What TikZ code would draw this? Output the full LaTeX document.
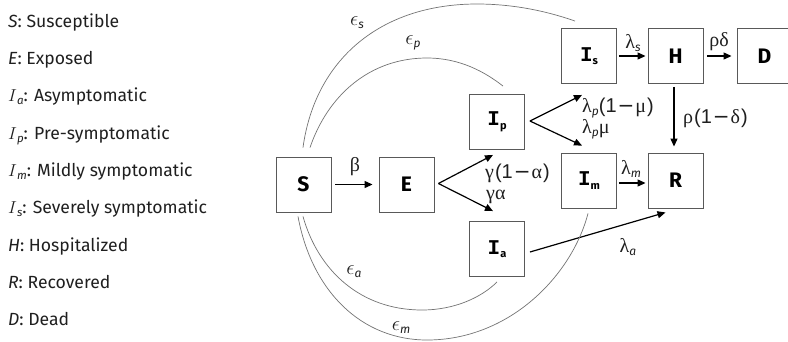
\documentclass[tikz,border=0pt]{standalone}
\usepackage{fontspec}
\setmainfont{Fira Sans}
\newfontfamily\grk{Liberation Serif}
\newfontfamily\lsans{Liberation Sans}
\newfontfamily\dvs{DejaVu Sans}
\newfontfamily\monoI{Liberation Mono}
\usetikzlibrary{arrows.meta}
\definecolor{boxgray}{gray}{0.35}
\definecolor{curvegray}{gray}{0.45}
\definecolor{txt}{gray}{0.12}
\newcommand\boxI[1]{{\monoI\bfseries I}\raisebox{-3.5pt}{\fontsize{11}{11}\selectfont\bfseries #1}}
\newcommand\sbs[1]{\raisebox{-3pt}{\fontsize{11.5}{11.5}\selectfont\itshape #1}}
\newcommand\lsub[1]{\raisebox{-3pt}{\fontsize{12}{12}\selectfont\itshape #1}}
\newcommand\gk[1]{{\grk #1}}
\newcommand\ls[1]{{\lsans #1}}
\newcommand\mn{\kern1pt{\dvs −}\kern1pt}
\begin{document}
\begin{tikzpicture}[x=1pt,y=-1pt,
  comp/.style={draw=boxgray,line width=0.9pt,minimum width=55pt,minimum height=55pt,inner sep=0pt,font=\fontsize{21}{21}\selectfont\bfseries,text=black},
  flow/.style={draw=black,line width=1.2pt,-{Triangle[length=8pt,width=7pt]}},
  infl/.style={draw=curvegray,line width=0.7pt},
  lab/.style={inner sep=0pt,font=\fontsize{20}{20}\selectfont,text=txt},
  leg/.style={anchor=base west,inner sep=0pt,font=\fontsize{17.6}{17.6}\selectfont,text=txt}]
\useasboundingbox (0,0) rectangle (788,341);
% legend
\node[leg] (l1) at (8,27.3) {\textit{S}: Susceptible};
\node[leg] (l2) at (8,64.6) {\textit{E}: Exposed};
\node[leg] (l3) at (8,101.9) {$I$\sbs{a}: Asymptomatic};
\node[leg] (l4) at (8,139.2) {$I$\sbs{p}: Pre-symptomatic};
\node[leg] (l5) at (8,176.5) {$I$\sbs{m}: Mildly symptomatic};
\node[leg] (l6) at (8,213.8) {$I$\sbs{s}: Severely symptomatic};
\node[leg] (l7) at (8,251.1) {\textit{H}: Hospitalized};
\node[leg] (l8) at (8,288.4) {\textit{R}: Recovered};
\node[leg] (l9) at (8,325.7) {\textit{D}: Dead};
% compartments
\node[comp] (S) at (303.5,184.5) {S};
\node[comp] (E) at (406.5,184.5) {E};
\node[comp] (Ip) at (497,122) {\boxI{p}};
\node[comp] (Ia) at (497,249) {\boxI{a}};
\node[comp] (Is) at (589,56) {\boxI{s}};
\node[comp] (Im) at (589,180.5) {\boxI{m}};
\node[comp] (H) at (675.5,56) {H};
\node[comp] (R) at (675.5,180.5) {R};
\node[comp] (D) at (764.5,56) {D};
% flows
\draw[flow,shorten <=4pt,shorten >=6pt] (S) -- (E);
\draw[flow] ([xshift=4pt,yshift=1pt]E.east) -- ([xshift=-4pt,yshift=-5pt]Ip.south);
\draw[flow] ([xshift=4pt,yshift=1pt]E.east) -- ([xshift=-4pt,yshift=10pt]Ia.north);
\draw[flow] ([xshift=5pt,yshift=1pt]Ip.east) -- ([xshift=-7pt,yshift=-11pt]Is.south);
\draw[flow] ([xshift=5pt,yshift=1pt]Ip.east) -- ([xshift=-7pt,yshift=7pt]Im.north);
\draw[flow,shorten <=2pt,shorten >=2pt] (Is) -- (H);
\draw[flow,shorten <=4pt,shorten >=5pt] (H) -- (D);
\draw[flow,shorten <=3pt,shorten >=6pt] ([xshift=-1.5pt]H.south) -- ([xshift=-1.5pt]R.north);
\draw[flow,shorten <=2pt,shorten >=2pt] ([yshift=-2.5pt]Im.east) -- ([yshift=-2.5pt]R.west);
\draw[flow] ([xshift=5pt,yshift=-3pt]Ia.east) -- ([xshift=-10pt,yshift=-4pt]R.south);
% infection curves
\draw[infl] ([xshift=-0.5pt,yshift=9pt]S.north) .. controls (315,60) and (380,4) .. (477,4)
  .. controls (520,4) and (555,14) .. ([xshift=-14pt,yshift=7pt]Is.north);
\draw[infl] ([xshift=6.5pt,yshift=9pt]S.north) .. controls (328,95) and (370,58) .. (427,58)
  .. controls (460,58) and (485,72) .. ([xshift=6pt,yshift=8pt]Ip.north);
\draw[infl] ([xshift=-0.5pt,yshift=-4pt]S.south) .. controls (318,270) and (360,310) .. (422,310)
  .. controls (455,310) and (482,297) .. ([yshift=-5pt]Ia.south);
\draw[infl] ([xshift=-5.5pt,yshift=-4pt]S.south) .. controls (312,292) and (362,340) .. (427,340)
  .. controls (510,340) and (572,275) .. ([xshift=-1pt,yshift=-5pt]Im.south);
% labels
\node[lab] (lb) at (355,167) {\gk{β}};
\node[lab,anchor=west] (lg1) at (485,173) {\gk{γ}\kern1pt\ls{(1}\mn\gk{α}\kern1pt\ls{)}};
\node[lab,anchor=west] (lg2) at (486,197) {\gk{γα}};
\node[lab,anchor=west] (lp1) at (582,108) {\gk{λ}\lsub{p}\ls{(1}\mn\gk{μ}\kern1pt\ls{)}};
\node[lab,anchor=west] (lp2) at (582,129.5) {\gk{λ}\lsub{p}\gk{μ}};
\node[lab,anchor=west] (lr) at (683,118) {\gk{ρ}\kern1pt\ls{(1}\mn\gk{δ}\kern1pt\ls{)}};
\node[lab] (lls) at (633,43) {\gk{λ}\lsub{s}};
\node[lab] (lrd) at (719,42) {\gk{ρδ}};
\node[lab] (llm) at (631,169) {\gk{λ}\lsub{m}};
\node[lab] (lla) at (628,247) {\gk{λ}\lsub{a}};
\node[lab] (es) at (357,23) {$\epsilon$\lsub{s}};
\node[lab] (ep) at (413,43) {$\epsilon$\lsub{p}};
\node[lab] (ea) at (354,272) {$\epsilon$\lsub{a}};
\node[lab] (em) at (401,328) {$\epsilon$\lsub{m}};
\end{tikzpicture}
\end{document}
